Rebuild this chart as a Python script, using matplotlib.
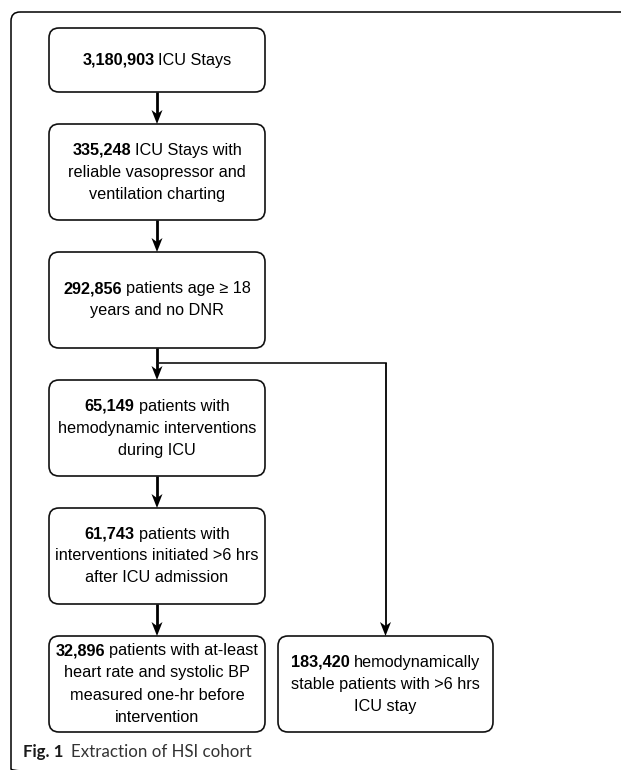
import matplotlib
matplotlib.use("Agg")
import matplotlib.pyplot as plt
from matplotlib.patches import FancyBboxPatch, Polygon

W, H = 621, 770

# box contents: bold count + the rest of the text, split into lines
counts = ["3,180,903", "335,248", "292,856", "65,149", "61,743", "32,896", "183,420"]
first_lines = ["ICU Stays", "ICU Stays with", "patients age \u2265 18",
               "patients with", "patients with", "patients with at-least",
               "hemodynamically"]
more_lines = [
    [],
    ["reliable vasopressor and", "ventilation charting"],
    ["years and no DNR"],
    ["hemodynamic interventions", "during ICU"],
    ["interventions initiated >6 hrs", "after ICU admission"],
    ["heart rate and systolic BP", "measured one-hr before", "intervention"],
    ["stable patients with >6 hrs", "ICU stay"],
]
caption_bold = "Fig. 1"
caption_text = "Extraction of HSI cohort"

# box geometry in pixels (x0, y0, x1, y1)
boxes = [
    (49, 28, 265, 92),
    (49, 124, 265, 220),
    (49, 252, 265, 348),
    (49, 380, 265, 476),
    (49, 508, 265, 604),
    (49, 636, 265, 732),
    (278, 636, 493, 732),
]

FONT = "Liberation Sans"
FS = 11.7
LINE = 22
GAP = 4.0

fig = plt.figure(figsize=(W / 100, H / 100), dpi=100)
ax = fig.add_axes([0, 0, 1, 1])
ax.set_xlim(0, W)
ax.set_ylim(H, 0)
ax.axis("off")
fig.canvas.draw()
renderer = fig.canvas.get_renderer()


def text_width(s, **kw):
    t = ax.text(0, 0, s, **kw)
    bb = t.get_window_extent(renderer)
    t.remove()
    return bb.width


# outer frame (only top and left are visible, rounded corner)
frame = FancyBboxPatch((11, 12), 700, 766, boxstyle="round,pad=0,rounding_size=9",
                       fill=False, ec="black", lw=1.1)
ax.add_patch(frame)

for (x0, y0, x1, y1), cnt, first, rest in zip(boxes, counts, first_lines, more_lines):
    ax.add_patch(FancyBboxPatch((x0, y0), x1 - x0, y1 - y0,
                                boxstyle="round,pad=0,rounding_size=10",
                                fill=False, ec="#111111", lw=1.2))
    lines = [first] + rest
    cx = (x0 + x1) / 2
    cy = (y0 + y1) / 2
    top = cy - (len(lines) - 1) * LINE / 2
    wb = text_width(cnt, family=FONT, fontsize=FS, fontweight="bold")
    wr = text_width(first, family=FONT, fontsize=FS)
    start = cx - (wb + GAP + wr) / 2
    ax.text(start, top, cnt, family=FONT, fontsize=FS, fontweight="bold",
            ha="left", va="center")
    ax.text(start + wb + GAP, top, first, family=FONT, fontsize=FS,
            ha="left", va="center")
    for i, ln in enumerate(rest):
        ax.text(cx, top + (i + 1) * LINE, ln, family=FONT, fontsize=FS,
                ha="center", va="center")


def arrow(x, ya, yb, lw):
    ax.plot([x, x], [ya, yb - 8], color="black", lw=lw, solid_capstyle="butt")
    head = Polygon([[x - 5.5, yb - 14], [x, yb - 10], [x + 5.5, yb - 14], [x, yb]],
                   closed=True, color="black", lw=0)
    ax.add_patch(head)


main_x = (boxes[0][0] + boxes[0][2]) / 2
for a, b in zip(boxes[:5], boxes[1:6]):
    arrow(main_x, a[3], b[1], 2.0)

# branch to the stable cohort
side_x = (boxes[6][0] + boxes[6][2]) / 2
branch_y = 363
ax.plot([main_x, side_x], [branch_y, branch_y], color="#111111", lw=1.2)
arrow(side_x, branch_y, boxes[6][1], 1.3)

# caption
CF = "Lato"
CS = 12.2
wcap = text_width(caption_bold, family=CF, fontsize=CS, fontweight="bold")
ax.text(23, 752, caption_bold, family=CF, fontsize=CS, fontweight="bold",
        ha="left", va="center", color="#1a1a1a")
ax.text(23 + wcap + 8, 752, caption_text, family=CF, fontsize=CS,
        ha="left", va="center", color="#333333")

fig.savefig("out.png", dpi=100)
